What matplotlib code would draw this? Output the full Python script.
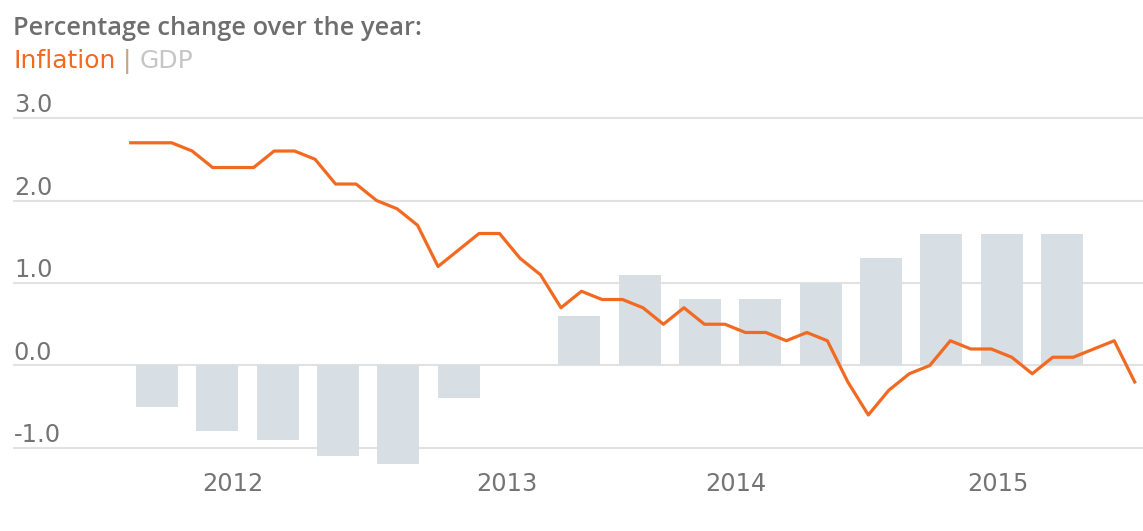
import matplotlib
matplotlib.use("Agg")
import matplotlib.pyplot as plt

# Eurozone-style data
inflation = [2.7, 2.7, 2.7, 2.6, 2.4, 2.4, 2.4, 2.6, 2.6, 2.5, 2.2, 2.2,
             2.0, 1.9, 1.7, 1.2, 1.4, 1.6, 1.6, 1.3, 1.1, 0.7, 0.9, 0.8,
             0.8, 0.7, 0.5, 0.7, 0.5, 0.5, 0.4, 0.4, 0.3, 0.4, 0.3, -0.2,
             -0.6, -0.3, -0.1, 0.0, 0.3, 0.2, 0.2, 0.1, -0.1, 0.1, 0.1, 0.2,
             0.3, -0.2]
gdp = [-0.5, -0.8, -0.9, -1.1, -1.2, -0.4, 0.0, 0.6,
       1.1, 0.8, 0.8, 1.0, 1.3, 1.6, 1.6, 1.6]
y_ticks = [3.0, 2.0, 1.0, 0.0, -1.0]
years = ["2012", "2013", "2014", "2015"]
year_pos = [5.0, 18.37, 29.54, 42.33]  # month index where the labels sit

ORANGE = "#f26a21"
BAR = "#d7dee4"
GRID = "#e2e2e2"
TXT = "#747474"

plt.rcParams["font.family"] = "DejaVu Sans"

fig = plt.figure(figsize=(11.43, 5.31), dpi=100)
ax = fig.add_axes([0.0111, 0.1149, 0.9889, 0.6757])
ax.set_ylim(-1.267, 3.083)

# quarterly bars on the base axis
ax.bar(range(len(gdp)), gdp, width=0.70, color=BAR, zorder=2)
ax.set_xlim(-2.392, 16.343)
for v in y_ticks:
    ax.axhline(v, color=GRID, lw=1.5, zorder=1)
    ax.text(0.001, v + 0.07, f"{v:.1f}", transform=ax.get_yaxis_transform(),
            ha="left", va="baseline", fontsize=17.3, color=TXT)

# monthly inflation line on a twin axis
axl = ax.twiny()
axl.plot(range(len(inflation)), inflation, color=ORANGE, lw=2.3, zorder=3)
axl.set_xlim(-5.759, 49.405)
for x, lab in zip(year_pos, years):
    axl.text(x, -1.522, lab, ha="center", va="baseline", fontsize=17.3,
             color=TXT, clip_on=False)

for a in (ax, axl):
    a.axis("off")

fig.text(0.0114, 0.934, "Percentage change over the year:", fontsize=18.3,
         family="Open Sans", fontweight="semibold", color="#6e6e6e",
         va="baseline")

# coloured legend line, pieces chained one after another
r = fig.canvas.get_renderer()
x0 = 0.0114 * fig.bbox.width
for s, c in [("Inflation", ORANGE), (" | ", "#c4a585"), ("GDP", "#c6c6c6")]:
    t = fig.text(x0 / fig.bbox.width, 0.872, s, fontsize=18, color=c,
                 va="baseline")
    x0 = t.get_window_extent(r).x1

fig.savefig("out.png", dpi=100)
